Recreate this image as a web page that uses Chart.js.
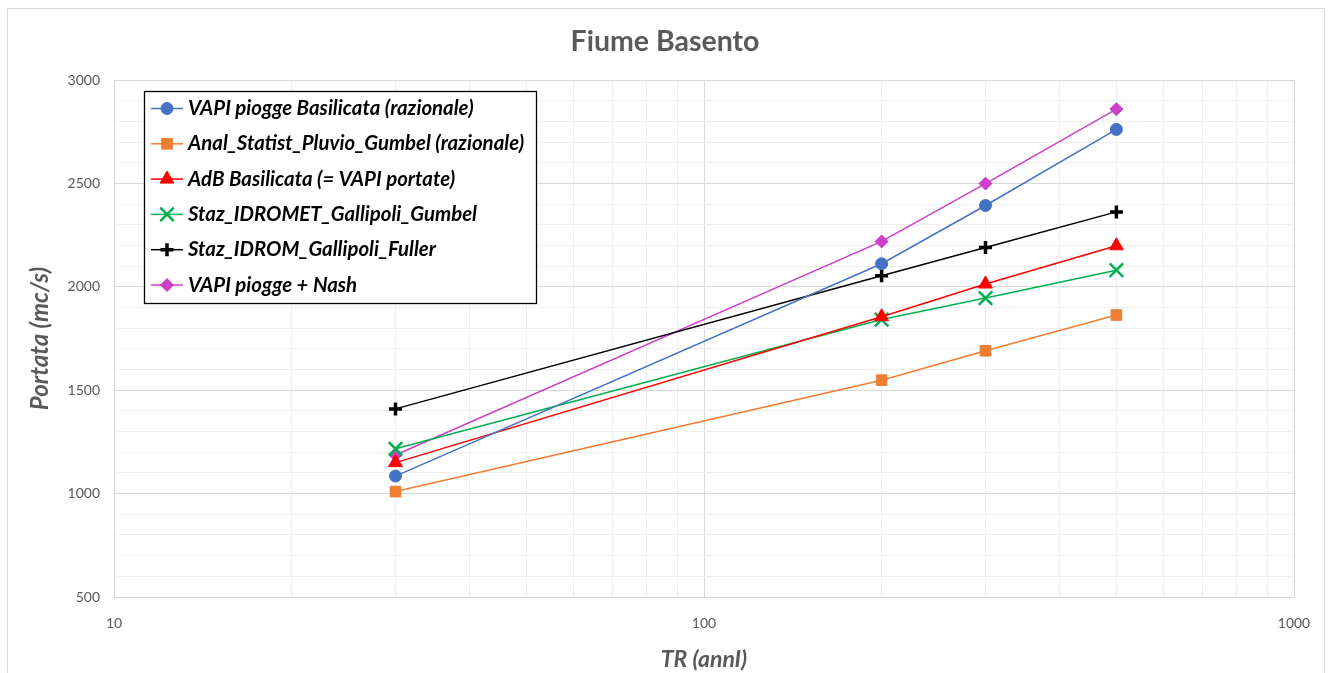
<!DOCTYPE html>
<html>
<head>
<meta charset="utf-8">
<title>Fiume Basento</title>
<script src="https://cdn.jsdelivr.net/npm/chart.js@4/dist/chart.umd.min.js"></script>
<style>
    html, body { margin: 0; padding: 0; background: #fff; }
    #wrap { width: 1330px; height: 673px; position: relative; }
</style>
</head>
<body>
<div id="wrap"><canvas id="basentoChart"></canvas></div>
<script>
// tempi di ritorno (anni)
var trAnni = [30, 200, 300, 500]

// portate (mc/s)
var vapiRazionale = [1085, 2112, 2394, 2762]
var analGumbel = [1010, 1549, 1691, 1864]
var adbBasilicata = [1150, 1856, 2014, 2199]
var idrometGumbel = [1217, 1842, 1946, 2081]
var idromFuller = [1410, 2054, 2191, 2363]
var vapiNash = [1187, 2220, 2500, 2860]

var serieNomi = [
    'VAPI piogge Basilicata (razionale)',
    'Anal_Statist_Pluvio_Gumbel (razionale)',
    'AdB Basilicata (= VAPI portate)',
    'Staz_IDROMET_Gallipoli_Gumbel',
    'Staz_IDROM_Gallipoli_Fuller',
    'VAPI piogge + Nash'
]

var xTickValues = [10, 20, 30, 40, 50, 60, 70, 80, 90, 100, 200, 300, 400, 500, 600, 700, 800, 900, 1000]
var xTickLabels = [10, 100, 1000]

function punti(valori) {
    return trAnni.map(function (tr, i) { return {x: tr, y: valori[i]} })
}

function serie(label, valori, colore, stile, raggio, bordo) {
    return {
        label: label,
        data: punti(valori),
        borderColor: colore,
        backgroundColor: colore,
        borderWidth: 1.5,
        pointStyle: stile,
        pointRadius: raggio,
        pointBackgroundColor: colore,
        pointBorderColor: colore,
        pointBorderWidth: bordo,
        tension: 0
    }
}

var sfondo = {
    id: 'sfondo',
    beforeDraw: function (chart) {
        var c = chart.ctx
        c.save()
        c.fillStyle = '#fff'
        c.fillRect(0, 0, chart.width, chart.height)
        c.strokeStyle = '#d9d9d9'
        c.lineWidth = 1
        c.strokeRect(7.5, 8.5, 1317, 700)
        c.restore()
    }
}

var legendaBox = {
    id: 'legendaBox',
    afterDraw: function (chart) {
        var c = chart.ctx
        c.save()
        c.fillStyle = '#fff'
        c.fillRect(144, 91, 392, 212)
        c.strokeStyle = '#000'
        c.lineWidth = 1.3
        c.strokeRect(144.5, 91.5, 392, 212)
        chart.data.datasets.forEach(function (ds, i) {
            var y = 108.5 + i * 35.3
            c.strokeStyle = ds.borderColor
            c.lineWidth = 1.5
            c.beginPath()
            c.moveTo(151, y)
            c.lineTo(183, y)
            c.stroke()
            c.fillStyle = ds.pointBackgroundColor
            c.strokeStyle = ds.pointBorderColor
            c.lineWidth = ds.pointBorderWidth
            Chart.helpers.drawPoint(c, {
                pointStyle: ds.pointStyle,
                radius: ds.pointRadius,
                rotation: 0,
                borderWidth: ds.pointBorderWidth
            }, 167, y)
            c.fillStyle = '#000'
            c.font = 'italic bold 20.4px Lato'
            c.textBaseline = 'middle'
            c.textAlign = 'left'
            c.fillText(ds.label, 188, y)
        })
        c.restore()
    }
}

var ctx = document.getElementById('basentoChart')
var chart = new Chart(ctx, {
    type: 'line',
    data: {
        datasets: [
            serie(serieNomi[0], vapiRazionale, '#4472c4', 'circle', 6, 1),
            serie(serieNomi[1], analGumbel, '#ed7d31', 'rect', 7.5, 1),
            serie(serieNomi[2], adbBasilicata, '#ff0000', 'triangle', 8, 1),
            serie(serieNomi[3], idrometGumbel, '#00b050', 'crossRot', 9.5, 2.5),
            serie(serieNomi[4], idromFuller, '#000000', 'cross', 6.5, 3.5),
            serie(serieNomi[5], vapiNash, '#cc3fc6', 'rectRot', 6.5, 1)
        ]
    },
    plugins: [sfondo, legendaBox],
    options: {
        responsive: true,
        maintainAspectRatio: false,
        animation: false,
        events: [],
        layout: { padding: 0 },
        plugins: {
            legend: { display: false },
            tooltip: { enabled: false },
            title: {
                display: true,
                text: 'Fiume Basento',
                color: '#595959',
                font: { family: 'Lato', size: 28.5, weight: 'bold' },
                padding: { top: 25, bottom: 21 }
            }
        },
        scales: {
            x: {
                type: 'logarithmic',
                min: 10,
                max: 1000,
                afterBuildTicks: function (scale) {
                    scale.ticks = xTickValues.map(function (v) { return {value: v} })
                },
                afterFit: function (scale) { scale.height = 76 },
                border: { display: false },
                grid: {
                    drawTicks: false,
                    color: function (c) {
                        return xTickLabels.indexOf(c.tick.value) >= 0 ? '#d9d9d9' : '#efefef'
                    }
                },
                ticks: {
                    autoSkip: false,
                    maxRotation: 0,
                    padding: 18,
                    color: '#595959',
                    font: { family: 'Lato', size: 14 },
                    callback: function (v) { return xTickLabels.indexOf(v) >= 0 ? String(v) : '' }
                },
                title: {
                    display: true,
                    text: 'TR (annI)',
                    color: '#595959',
                    font: { family: 'Lato', size: 23, weight: 'bold', style: 'italic', lineHeight: 1 },
                    padding: { top: 0, bottom: 2 }
                }
            },
            y: {
                min: 500,
                max: 3000,
                afterFit: function (scale) { scale.width = 114 },
                border: { display: false },
                grid: {
                    drawTicks: false,
                    color: function (c) {
                        return c.tick.value % 500 === 0 ? '#d9d9d9' : '#efefef'
                    }
                },
                ticks: {
                    stepSize: 100,
                    autoSkip: false,
                    padding: 14,
                    color: '#595959',
                    font: { family: 'Lato', size: 14 },
                    callback: function (v) { return v % 500 === 0 ? String(v) : '' }
                },
                title: {
                    display: true,
                    text: 'Portata (mc/s)',
                    color: '#595959',
                    font: { family: 'Lato', size: 24, weight: 'bold', style: 'italic', lineHeight: 1.2 },
                    padding: { top: 26, bottom: 0 }
                }
            },
            // asse vuoto a destra, solo per il margine
            margineDx: {
                position: 'right',
                display: true,
                afterFit: function (scale) { scale.width = 36 },
                border: { display: false },
                grid: { display: false },
                ticks: { display: false }
            }
        }
    }
})
</script>
</body>
</html>
